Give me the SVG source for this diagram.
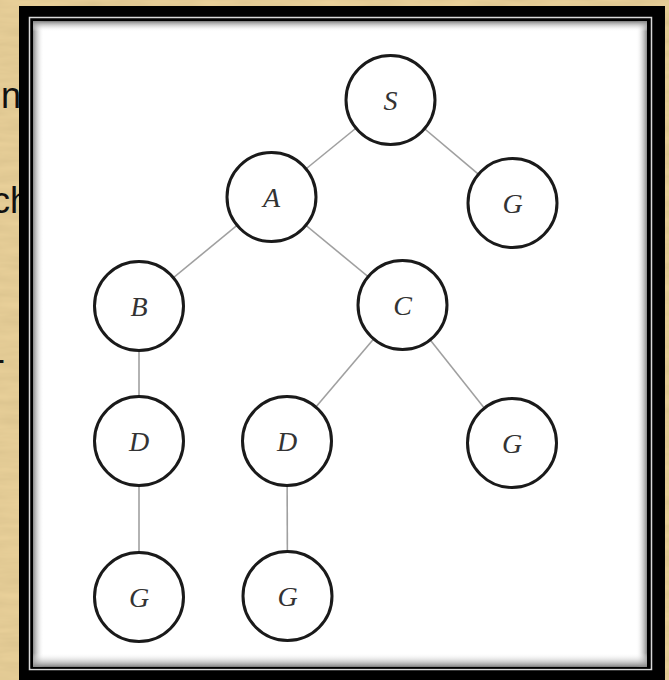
<svg xmlns="http://www.w3.org/2000/svg" width="669" height="680" viewBox="0 0 669 680">
  <defs>
    <filter id="paper" x="0" y="0" width="100%" height="100%">
      <feTurbulence type="fractalNoise" baseFrequency="0.02 0.12" numOctaves="3" seed="4" result="n"/>
      <feColorMatrix in="n" type="matrix" values="0 0 0 0 0.55  0 0 0 0 0.42  0 0 0 0 0.2  0 0 0 0.45 0"/>
    </filter>
    <linearGradient id="shL" x1="0" y1="0" x2="1" y2="0">
      <stop offset="0" stop-color="#8a8a8a"/>
      <stop offset="1" stop-color="#ffffff" stop-opacity="0"/>
    </linearGradient>
    <linearGradient id="shR" x1="1" y1="0" x2="0" y2="0">
      <stop offset="0" stop-color="#8a8a8a"/>
      <stop offset="1" stop-color="#ffffff" stop-opacity="0"/>
    </linearGradient>
    <linearGradient id="shT" x1="0" y1="0" x2="0" y2="1">
      <stop offset="0" stop-color="#8a8a8a"/>
      <stop offset="1" stop-color="#ffffff" stop-opacity="0"/>
    </linearGradient>
    <linearGradient id="shB" x1="0" y1="1" x2="0" y2="0">
      <stop offset="0" stop-color="#8a8a8a"/>
      <stop offset="1" stop-color="#ffffff" stop-opacity="0"/>
    </linearGradient>
    <style>
      .bgtext { font-family: "Liberation Sans", Arial, sans-serif; font-size: 36px; fill: #111; }
      .edge { stroke: #a0a0a0; stroke-width: 1.6; fill: none; }
      .node circle { fill: #ffffff; stroke: #1a1a1a; stroke-width: 3; }
      .node text { font-family: "Liberation Serif", "Times New Roman", serif; font-style: italic; font-size: 28px; fill: #333; text-anchor: middle; dominant-baseline: central; }
    </style>
  </defs>

  <!-- parchment backdrop -->
  <rect x="0" y="0" width="669" height="680" fill="#ecd39c"/>
  <rect x="0" y="0" width="669" height="680" filter="url(#paper)"/>

  <!-- text peeking out from behind the frame -->
  <text class="bgtext" x="1" y="108">n</text>
  <text class="bgtext" x="-8" y="213">ch</text>
  <text class="bgtext" x="-7" y="371">-</text>

  <!-- frame -->
  <rect x="19" y="6" width="646" height="690" fill="#000"/>
  <rect x="29.5" y="17.5" width="622" height="652" fill="none" stroke="#d8d8d8" stroke-width="1.5"/>
  <rect x="31" y="19.5" width="619" height="649" fill="#000"/>
  <rect x="33" y="21.5" width="614" height="645" fill="#fff"/>
  <!-- inner shading -->
  <rect x="33" y="21.5" width="11" height="645" fill="url(#shL)"/>
  <rect x="636" y="21.5" width="11" height="645" fill="url(#shR)"/>
  <rect x="33" y="21.5" width="614" height="10" fill="url(#shT)"/>
  <rect x="33" y="653" width="614" height="13.5" fill="url(#shB)"/>

  <!-- connectors -->
  <g id="edges">
    <line class="edge" x1="390.5" y1="100" x2="271.5" y2="197"/>
    <line class="edge" x1="390.5" y1="100" x2="512.5" y2="203"/>
    <line class="edge" x1="271.5" y1="197" x2="139" y2="306"/>
    <line class="edge" x1="271.5" y1="197" x2="402.5" y2="305"/>
    <line class="edge" x1="139" y1="306" x2="139" y2="441"/>
    <line class="edge" x1="402.5" y1="305" x2="287" y2="441"/>
    <line class="edge" x1="402.5" y1="305" x2="512" y2="443"/>
    <line class="edge" x1="139" y1="441" x2="139" y2="597"/>
    <line class="edge" x1="287" y1="441" x2="287.5" y2="596"/>
  </g>

  <!-- nodes -->
  <g id="node-S" class="node"><circle cx="390.5" cy="100" r="44.5"/><text x="390.5" y="100">S</text></g>
  <g id="node-A" class="node"><circle cx="271.5" cy="197" r="44.5"/><text x="271.5" y="197">A</text></g>
  <g id="node-G1" class="node"><circle cx="512.5" cy="203" r="44.5"/><text x="512.5" y="203">G</text></g>
  <g id="node-B" class="node"><circle cx="139" cy="306" r="44.5"/><text x="139" y="306">B</text></g>
  <g id="node-C" class="node"><circle cx="402.5" cy="305" r="44.5"/><text x="402.5" y="305">C</text></g>
  <g id="node-D1" class="node"><circle cx="139" cy="441" r="44.5"/><text x="139" y="441">D</text></g>
  <g id="node-D2" class="node"><circle cx="287" cy="441" r="44.5"/><text x="287" y="441">D</text></g>
  <g id="node-G2" class="node"><circle cx="512" cy="443" r="44.5"/><text x="512" y="443">G</text></g>
  <g id="node-G3" class="node"><circle cx="139" cy="597" r="44.5"/><text x="139" y="597">G</text></g>
  <g id="node-G4" class="node"><circle cx="287.5" cy="596" r="44.5"/><text x="287.5" y="596">G</text></g>
</svg>
